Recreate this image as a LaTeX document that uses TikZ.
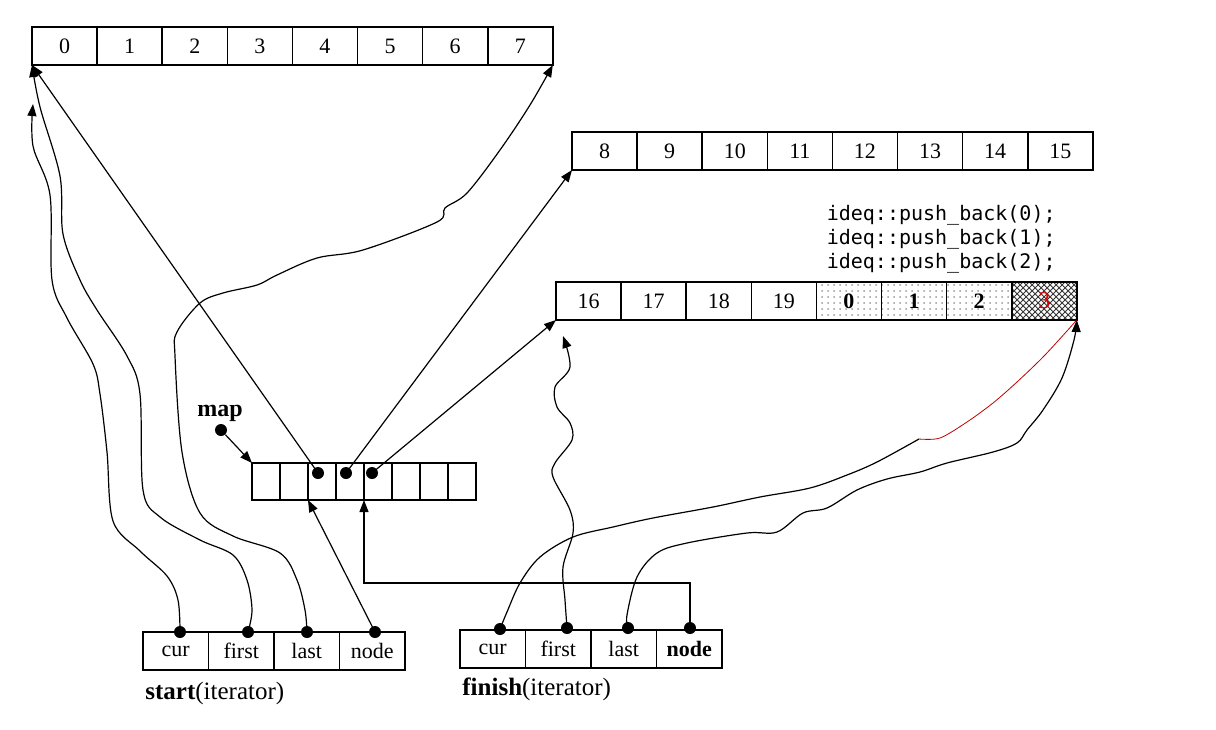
\documentclass[tikz,border=0pt]{standalone}
\usepackage{fontspec}
\setmainfont{Liberation Serif}
\newfontfamily\codefont{DejaVu Sans Mono}
\usetikzlibrary{positioning, arrows.meta, patterns}

\tikzset{
  cell/.style={draw, line width=0.8pt, minimum width=32.55pt, minimum height=19pt,
    inner sep=0pt, outer sep=0pt, font=\fontsize{11}{13}\selectfont},
  mapcell/.style={cell, minimum width=14pt, minimum height=18.5pt},
  itcell/.style={cell, minimum width=32.75pt},
  plain/.style={},
  stipple/.style={pattern=dots, pattern color=black!40, font=\fontsize{11}{13}\selectfont\bfseries},
  hatched/.style={pattern=crosshatch, pattern color=black!80, text=red!85!black, font=\fontsize{12}{14}\selectfont},
  dot/.style={circle, fill, inner sep=0pt, minimum size=6pt},
  ptr/.style={-{Triangle[length=6pt, width=4.5pt]}, line width=0.6pt},
}

\begin{document}
\begin{tikzpicture}[x=0.5pt, y=-0.5pt]
\useasboundingbox (0,0) rectangle (1216,729);

% buffers
\node[cell, anchor=north west] (a0) at (32,27) {0};
\foreach \lab [count=\i, remember=\i as \j (initially 0)] in {1,...,7}
  \node[cell, right=0pt of a\j] (a\i) {\lab};

\node[cell, anchor=north west] (b0) at (572,132) {8};
\foreach \lab [count=\i, remember=\i as \j (initially 0)] in {9,...,15}
  \node[cell, right=0pt of b\j] (b\i) {\lab};

\node[cell, anchor=north west] (c0) at (556,282) {16};
\foreach \lab/\sty [count=\i, remember=\i as \j (initially 0)] in
    {17/plain, 18/plain, 19/plain, 0/stipple, 1/stipple, 2/stipple, 3/hatched}
  \node[cell, \sty, right=0pt of c\j] (c\i) {\lab};

\node[font={\fontsize{10}{12}\selectfont\codefont}, align=left, inner sep=0pt,
  anchor=north east] (code) at (1056,205)
  {ideq::push\_back(0);\\ideq::push\_back(1);\\ideq::push\_back(2);};

% map
\node[font=\fontsize{12}{14}\selectfont\bfseries] (maplab) at (220,413) {map};
\node[dot] (mapdot) at (221,430) {};
\node[mapcell, anchor=north west] (m0) at (252,463) {};
\foreach \i [remember=\i as \j (initially 0)] in {1,...,7}
  \node[mapcell, right=0pt of m\j] (m\i) {};
\node[dot] (d2) at (318,473) {};
\node[dot] (d3) at (346,473) {};
\node[dot] (d4) at (372,473) {};

% iterators
\node[itcell, anchor=north west] (s0) at (143,632) {cur};
\foreach \lab [count=\i, remember=\i as \j (initially 0)] in {first, last, node}
  \node[itcell, right=0pt of s\j] (s\i) {\lab};
\node[font=\fontsize{12.5}{15}\selectfont, anchor=west, inner sep=0pt] (slab) at (145,693)
  {\textbf{start}(iterator)};

\node[itcell, anchor=north west] (f0) at (460,630) {cur};
\foreach \lab [count=\i, remember=\i as \j (initially 0)] in {first, last, \textbf{node}}
  \node[itcell, right=0pt of f\j] (f\i) {\lab};
\node[font=\fontsize{12.5}{15}\selectfont, anchor=west, inner sep=0pt] (flab) at (462,689)
  {\textbf{finish}(iterator)};

\node[dot] (sc) at (180,632) {};
\node[dot] (sf) at (248,632) {};
\node[dot] (sl) at (307,632) {};
\node[dot] (sn) at (375,632) {};
\node[dot] (fc) at (500,629) {};
\node[dot] (ff) at (567,628) {};
\node[dot] (fl) at (628,628) {};
\node[dot] (fn) at (690,628) {};

\coordinate (curtip) at (33,104);
\coordinate (fftip) at (563,336);
\coordinate (cut) at (919,439);

% straight pointers
\draw[ptr] (mapdot) -- (m0.north west);
\draw[ptr] (d2.center) -- (a0.south west);
\draw[ptr] (d3.center) -- (b0.south west);
\draw[ptr] (d4.center) -- (c0.south west);
\draw[ptr] (sn.center) -- (m2.south west);
\draw[ptr] (fn.center) -- ++(0,-45) -| (m4.south west);

% start
\draw[ptr] plot[smooth, tension=0.55] coordinates {(sc.center) (178,600) (167,576)
  (140,551) (113,521) (107,452) (100,394) (93,364) (67,318) (52,280) (50,195) (33,146) (curtip)};
\draw[ptr] plot[smooth, tension=0.55] coordinates {(sf.center) (252,610) (247,580)
  (233,555) (200,540) (160,517) (143,490) (140,394) (127,356) (97,310) (80,280) (63,234)
  (60,176) (40,107) (a0.south west)};
\draw[ptr] plot[smooth, tension=0.55] coordinates {(sl.center) (305,610) (297,580)
  (280,553) (233,536) (200,513) (182,452) (175,356) (177,332) (200,303) (223,293) (257,285)
  (277,275) (317,258) (363,250) (437,222) (445,208) (467,193) (500,150) (530,105) (a7.south east)};

% finish
\draw[line width=0.6pt] plot[smooth, tension=0.55] coordinates {(fc.center) (507,612)
  (520,583) (540,557) (573,537) (613,527) (653,518) (713,507) (760,497) (810,488) (847,475)
  (877,462) (cut)};
\draw[red!75!black, line width=0.4pt] plot[smooth, tension=0.5] coordinates {(cut)
  (940,438) (967,422) (993,403) (1017,382) (1045,355) (c7.south east)};
\draw[ptr] plot[smooth, tension=0.55] coordinates {(ff.center) (565,600) (563,567)
  (573,533) (570,510) (553,477) (555,463) (572,440) (570,423) (557,407) (555,387) (570,367)
  (fftip)};
\draw[ptr] plot[smooth, tension=0.55] coordinates {(fl.center) (627,615) (637,577)
  (657,553) (687,543) (747,533) (777,532) (803,513) (827,508) (857,490) (887,479) (920,472)
  (947,463) (993,452) (1017,443) (1027,430) (1043,410) (1062,378) (1074,340) (c7.south east)};
\end{tikzpicture}
\end{document}
